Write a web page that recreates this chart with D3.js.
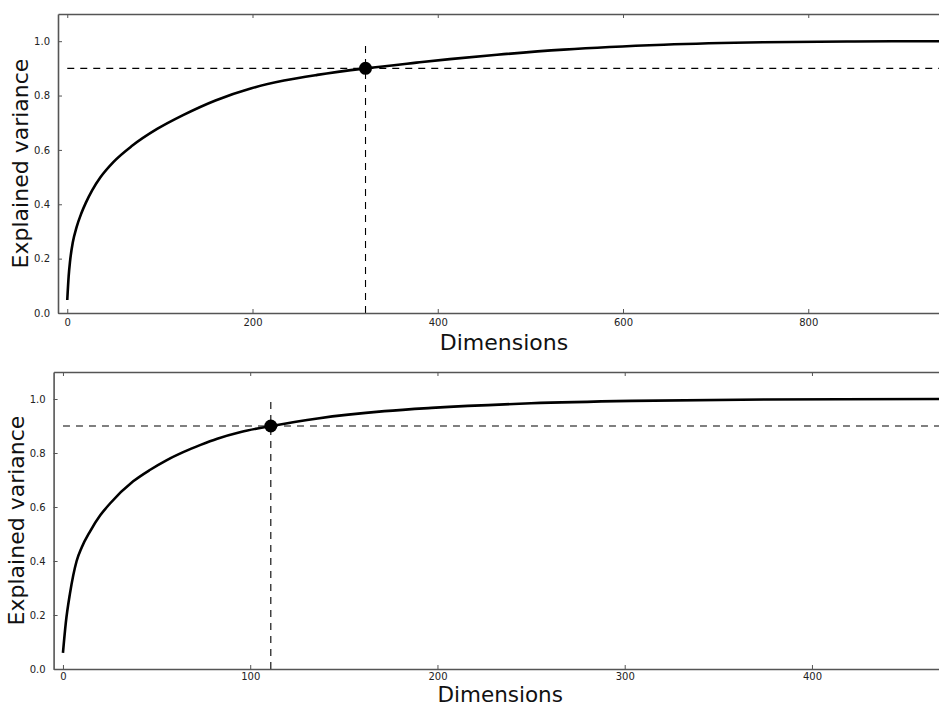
<!DOCTYPE html>
<html>
<head>
<meta charset="utf-8">
<script src="https://cdn.jsdelivr.net/npm/d3@7"></script>
<style>
  html, body { margin: 0; padding: 0; background: #fff; }
  svg { display: block; }
</style>
</head>
<body>
<svg id="chart" width="939" height="707"></svg>
<script>
// ---- Data ----
const topDims = [0, 1.5, 3, 6, 10, 15, 20, 27, 36, 50, 70, 97, 125, 160, 198, 234, 270, 322, 377, 413, 464, 536, 644, 751, 850, 953];
const topVar  = [0.048, 0.135, 0.19, 0.26, 0.315, 0.365, 0.405, 0.452, 0.500, 0.556, 0.615, 0.677, 0.728, 0.782, 0.826, 0.855, 0.876, 0.900, 0.921, 0.934, 0.950, 0.969, 0.987, 0.996, 0.999, 1.0];
const bottomDims = [0, 1.5, 3.75, 7.3, 10, 14.5, 20, 25, 37.5, 46.6, 55, 64.5, 73.5, 82.4, 95, 111.4, 136, 171.7, 196.8, 250, 304, 375, 472];
const bottomVar  = [0.06, 0.17, 0.28, 0.40, 0.45, 0.51, 0.57, 0.612, 0.695, 0.738, 0.772, 0.804, 0.83, 0.853, 0.878, 0.900, 0.928, 0.955, 0.967, 0.984, 0.993, 0.998, 1.0];
const topThreshold = { dim: 322, value: 0.9 };
const bottomThreshold = { dim: 111, value: 0.9 };
const yTicks = [0.0, 0.2, 0.4, 0.6, 0.8, 1.0];
const topXTicks = [0, 200, 400, 600, 800];
const bottomXTicks = [0, 100, 200, 300, 400];

const svg = d3.select("#chart");

function panel(cfg) {
  const x = d3.scaleLinear().domain(cfg.xDomain).range([cfg.left, cfg.right]);
  const y = d3.scaleLinear().domain([0, 1.1]).range([cfg.bottom, cfg.top]);
  const g = svg.append("g");

  // dashed reference lines
  g.append("line")
    .attr("x1", x(0)).attr("x2", x(cfg.dims[cfg.dims.length - 1]) )
    .attr("y1", y(cfg.thr.value)).attr("y2", y(cfg.thr.value))
    .attr("stroke", "#000").attr("stroke-width", 1.1).attr("stroke-dasharray", "7,6");
  g.append("line")
    .attr("x1", x(cfg.thr.dim)).attr("x2", x(cfg.thr.dim))
    .attr("y1", y(0)).attr("y2", y(1.0))
    .attr("stroke", "#000").attr("stroke-width", 1.1).attr("stroke-dasharray", "7,6");

  // curve
  const pts = cfg.dims.map((d, i) => [d, cfg.vals[i]]);
  const line = d3.line().x(d => x(d[0])).y(d => y(d[1])).curve(d3.curveMonotoneX);
  g.append("path").datum(pts).attr("d", line)
    .attr("fill", "none").attr("stroke", "#000").attr("stroke-width", 2.6)
    .attr("stroke-linejoin", "round");

  // marker
  g.append("circle").attr("cx", x(cfg.thr.dim)).attr("cy", y(cfg.thr.value))
    .attr("r", 6.5).attr("fill", "#000");

  // axes (matplotlib classic style: inward ticks on all sides)
  const fontFam = "DejaVu Sans, sans-serif";
  const xb = g.append("g").attr("transform", `translate(0,${cfg.bottom})`)
    .call(d3.axisBottom(x).tickValues(cfg.xTicks).tickSizeInner(-4).tickSizeOuter(0).tickPadding(cfg.xTickPad).tickFormat(d3.format("d")));
  const xt = g.append("g").attr("transform", `translate(0,${cfg.top})`)
    .call(d3.axisTop(x).tickValues(cfg.xTicks).tickSizeInner(-4).tickSizeOuter(0).tickFormat(""));
  const yl = g.append("g").attr("transform", `translate(${cfg.left},0)`)
    .call(d3.axisLeft(y).tickValues(yTicks).tickSizeInner(-4).tickSizeOuter(0).tickPadding(8).tickFormat(d3.format(".1f")));
  const yr = g.append("g").attr("transform", `translate(${cfg.right},0)`)
    .call(d3.axisRight(y).tickValues(yTicks).tickSizeInner(-4).tickSizeOuter(0).tickFormat(""));
  [xb, xt, yl, yr].forEach(a => {
    a.select(".domain").attr("stroke", "#555").attr("stroke-width", 1.6);
    a.selectAll(".tick line").attr("stroke", "#555").attr("stroke-width", 1);
    a.selectAll("text").attr("font-family", fontFam).attr("font-size", 10).attr("fill", "#222");
  });

  // axis labels
  g.append("text")
    .attr("x", (cfg.left + cfg.right) / 2).attr("y", cfg.bottom + cfg.xLabelOffset)
    .attr("text-anchor", "middle").attr("font-family", fontFam).attr("font-size", cfg.xLabelSize).attr("fill", "#111")
    .text("Dimensions");
  g.append("text")
    .attr("transform", `translate(${cfg.left - 30},${(cfg.top + cfg.bottom) / 2}) rotate(-90)`)
    .attr("text-anchor", "middle").attr("font-family", fontFam).attr("font-size", 22).attr("fill", "#111")
    .text("Explained variance");
}

panel({
  dims: topDims, vals: topVar, thr: topThreshold, xTicks: topXTicks,
  xLabelOffset: 37, xLabelSize: 22, xTickPad: 6,
  xDomain: [-10, 953], left: 58, right: 58 + 963 * 0.92625, top: 14, bottom: 313
});
panel({
  dims: bottomDims, vals: bottomVar, thr: bottomThreshold, xTicks: bottomXTicks,
  xLabelOffset: 32.5, xLabelSize: 21.5, xTickPad: 4,
  xDomain: [-5, 472], left: 53.6, right: 53.6 + 477 * 1.8725, top: 372, bottom: 669
});
</script>
</body>
</html>
